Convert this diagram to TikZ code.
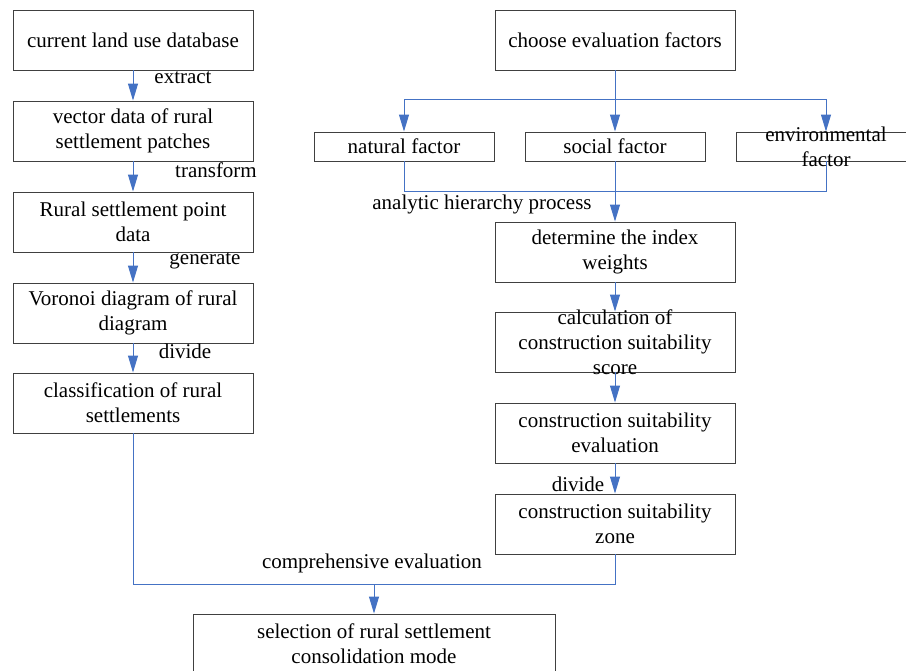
\documentclass[tikz,border=0pt]{standalone}
\usepackage{fontspec}
\setmainfont{Liberation Serif}
\usetikzlibrary{arrows.meta}
\definecolor{lblue}{RGB}{68,114,196}
\begin{document}
\begin{tikzpicture}[x=1pt,y=-1pt,
 txt/.style={font=\fontsize{21}{25}\selectfont,inner sep=0pt,align=center},
 box/.style={txt,draw=black!75,line width=0.9pt,minimum width=240pt,minimum height=60pt},
 fbox/.style={box,minimum width=180pt,minimum height=29pt},
 conn/.style={draw=lblue,line width=1pt},
 arr/.style={conn,-{Triangle[length=17pt,width=10pt]}},
 lbl/.style={txt}]
\useasboundingbox (0,0) rectangle (906,671);
\clip (0,0) rectangle (906,671);
% left column
\node[box] (l1) at (133,40) {current land use database};
\node[box] (l2) at (133,131) {vector data of rural\\settlement patches};
\node[box] (l3) at (133,222) {Rural settlement point\\data};
\node[box] (l4) at (133,313) {Voronoi diagram of rural\\diagram};
\node[box] (l5) at (133,403) {classification of rural\\settlements};
% right column
\node[box] (r1) at (615,40) {choose evaluation factors};
\node[fbox] (nat) at (404,146.5) {natural factor};
\node[fbox] (soc) at (615,146.5) {social factor};
\node[fbox] (env) at (826,146.5) {};
\node[lbl] (envt) at (env.center) {environmental\\factor};
\node[box] (r2) at (615,252) {determine the index\\weights};
\node[box] (r3) at (615,342) {};
\node[lbl] (r3t) at (r3.center) {calculation of\\construction suitability\\score};
\node[box] (r4) at (615,433) {construction suitability\\evaluation};
\node[box] (r5) at (615,524) {construction suitability\\zone};
\node[box,minimum width=362pt] (fin) at (374,644) {selection of rural settlement\\consolidation mode};
% left arrows
\draw[arr] (l1) -- (l2);
\draw[arr] (l2) -- (l3);
\draw[arr] (l3) -- (l4);
\draw[arr] (l4) -- (l5);
\node[lbl] (t1) at (183,78) {extract};
\node[lbl] (t2) at (216,170) {transform};
\node[lbl] (t3) at (205,261) {generate};
\node[lbl] (t4) at (185,351) {divide};
% factor branching
\coordinate (br) at (615,100);
\draw[conn] (r1.south) -- (br);
\draw[arr] (br) -| (nat.north);
\draw[arr] (br) -| (env.north);
\draw[arr] (br) -- (soc.north);
\coordinate (mg) at (615,192);
\draw[conn] (nat.south) |- (mg);
\draw[conn] (env.south) |- (mg);
\draw[arr] (soc.south) -- (r2.north);
\node[lbl] (ahp) at (482,204) {analytic hierarchy process};
% right arrows
\draw[arr] (r2) -- (r3);
\draw[arr] (r3) -- (r4);
\draw[arr] (r4) -- (r5);
\node[lbl] (t5) at (578,484) {divide};
% merge
\coordinate (jn) at (374,584);
\draw[conn] (l5.south) |- (jn);
\draw[conn] (r5.south) |- (jn);
\draw[arr] (jn) -- (fin.north);
\node[lbl] (ce) at (372,563) {comprehensive evaluation};
\end{tikzpicture}
\end{document}
